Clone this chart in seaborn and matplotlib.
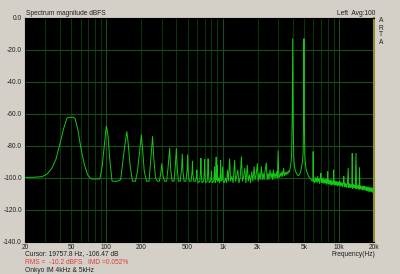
import matplotlib
matplotlib.use("Agg")
import matplotlib.pyplot as plt
import seaborn as sns
import pandas as pd

# ---------------- data ----------------
freq_low = [20, 24, 28, 31, 34, 37, 40, 43, 46, 48, 52, 54, 57, 61, 65, 69, 74, 80, 88, 92, 96, 100,
            103, 107, 112, 125, 133, 139, 144, 150, 154, 160, 168, 178, 185, 193, 200, 205, 212, 222,
            233, 240, 250, 256, 265, 275, 286, 294, 300, 306, 316, 330, 340, 350, 358, 368, 382, 392,
            400, 408, 417, 432, 445, 450, 456, 466, 483, 495, 500, 506, 516, 535, 546, 550, 555, 566,
            585, 596, 600, 605, 614, 636, 646, 650, 655, 664, 686, 696, 700, 705, 714, 736, 746, 750,
            755, 765, 786, 797, 800, 804, 814, 836, 846, 850, 855, 864, 873, 880, 886, 896, 900, 906,
            920, 940, 955, 961, 968, 985, 1000, 1012]
level_low = [-99.6, -99.5, -99.2, -97.5, -94, -88, -78.5, -69, -62.5, -62, -62, -63, -70, -83, -92, -98,
             -100.6, -100.6, -100.5, -93, -80, -67.5, -72, -88, -102, -102, -101, -89, -80, -71, -78, -92,
             -102, -102, -96, -84, -73, -82, -96, -102, -102, -90, -74, -88, -100, -102, -102, -97, -91,
             -98, -102, -102, -93, -81.5, -95, -102, -102, -92, -81.5, -95, -102, -102, -93, -85, -96,
             -102, -102, -95, -85.5, -97, -102, -102, -96, -89.5, -98, -102, -102, -99, -95, -100, -103,
             -102, -95, -87.7, -97, -103, -102, -96, -88.3, -97, -103, -102, -95, -88, -97, -103, -102,
             -99, -96, -100, -103, -102, -98, -93, -99, -103, -96, -87, -101, -98, -92, -102, -100, -103,
             -96, -89, -102, -101, -93, -102]

freq_mid = [1030, 1055, 1080, 1100, 1120, 1149, 1170, 1200, 1230, 1268, 1290, 1320, 1350, 1380, 1415,
            1450, 1480, 1515, 1550, 1585, 1628, 1660, 1700, 1740, 1780, 1820, 1864, 1900, 1940, 1986,
            2020, 2060, 2100, 2152, 2190, 2230, 2270, 2320, 2370, 2410, 2460, 2500, 2550, 2600, 2650,
            2690, 2727, 2770, 2820, 2870, 2920, 2960, 3000, 3040, 3080, 3130, 3180, 3230, 3280, 3340,
            3400, 3460, 3520, 3580, 3640, 3700, 3760, 3820, 3870, 3920, 3960, 4000, 4040, 4080, 4130,
            4200, 4300, 4400, 4480, 4580, 4680, 4780, 4860, 4920, 4960, 5000, 5040, 5090, 5160, 5250,
            5350, 5480, 5620, 5780, 5900, 5960, 6000, 6040]
level_mid = [-103, -100, -103, -95, -102, -88, -102, -99, -103, -89, -102, -99, -95, -103, -100, -86.7,
             -102, -99, -94, -103, -92, -102, -98, -103, -96, -102, -93, -101, -98, -91, -102, -97, -101,
             -93, -101, -97, -101, -95, -90.5, -101, -97, -101, -95, -100, -97, -101, -95, -100, -97,
             -100, -96, -100, -83, -99.5, -99.5, -97, -99, -96, -99, -94, -98.5, -96.5, -98, -96, -97.5,
             -95.5, -96, -93, -90, -85, -65, -13, -65, -86, -92, -95, -97, -98, -98.5, -98, -96, -93,
             -89, -84, -65, -13, -65, -86, -92, -95.5, -97, -99, -100, -101, -102, -101, -83.5, -101.5]

freq_high = [6150, 6250, 6330, 6420, 6500, 6580, 6660, 6740, 6830, 6910, 7000, 7080, 7160, 7240, 7330,
             7420, 7510, 7600, 7690, 7780, 7870, 7950, 8000, 8060, 8160, 8260, 8360, 8460, 8560, 8660,
             8760, 8860, 8950, 9000, 9060, 9170, 9280, 9390, 9500, 9620, 9740, 9860, 9980, 10100, 10230,
             10360, 10490, 10620, 10750, 10880, 11000, 11120, 11260, 11400, 11540, 11680, 11820, 12000,
             12120, 12280, 12440, 12600, 12760, 12900, 13000, 13100, 13280, 13460, 13640, 13820, 14000,
             14150, 14330, 14520, 14710, 14860, 15000, 15150, 15350, 15550, 15750, 15950, 16150, 16350,
             16550, 16760, 16970, 17180, 17400, 17620, 17840, 18060, 18290, 18520, 18750, 18980, 19220,
             19460, 19700, 19850, 20000]
level_high = [-103, -99.5, -102.5, -100, -103, -99, -102, -100.5, -103.5, -100, -97, -103, -100.5, -103,
              -100, -103.5, -101, -103, -100.5, -104, -101, -103, -96, -103.5, -101, -104, -101.5, -104,
              -101, -104.5, -102, -104, -101.5, -95, -104, -102, -104.5, -102, -104.5, -102, -105, -102.5,
              -104.5, -102, -105, -102.5, -105, -103, -105.5, -103, -99, -105.5, -103, -105.5, -103.5,
              -106, -103.5, -94, -106, -103.5, -106, -104, -106, -104, -84.6, -106.5, -104, -106, -104.5,
              -106.5, -84.6, -106.5, -104.5, -106.5, -104.5, -107, -93.5, -107, -105, -107, -105, -107.5,
              -105, -107.5, -105, -107.5, -105.5, -108, -105.5, -108, -105.5, -108.5, -106, -108.5, -106,
              -108.5, -106, -109, -106.5, -108.5, -107]

y_ticks = [0, -20, -40, -60, -80, -100, -120, -140]
x_ticks = [20, 50, 100, 200, 500, 1000, 2000, 5000, 10000, 20000]
x_tick_labels = ["20", "50", "100", "200", "500", "1k", "2k", "5k", "10k", "20k"]

df = pd.DataFrame({"freq": freq_low + freq_mid + freq_high,
                   "level": level_low + level_mid + level_high})

# ---------------- figure ----------------
W, H = 400, 274
FONT = ["Liberation Sans", "DejaVu Sans"]
plt.rcParams["font.family"] = FONT
BG = "#D4D0C8"
FS = 4.8
fig = plt.figure(figsize=(W / 100, H / 100), dpi=100, facecolor=BG)
ax = fig.add_axes([25 / W, 1 - 242 / H, 349 / W, 224 / H])
ax.set_facecolor("black")
ax.set_xscale("log")
ax.set_xlim(20, 20000)
ax.set_ylim(-140, 0)

# grid
grid_minor = "#0a360a"
grid_major = "#15501a"
for dec in [10, 100, 1000, 10000]:
    for m in range(1, 10):
        f = dec * m
        if 20 <= f <= 20000:
            c = grid_major if m == 1 else grid_minor
            ax.axvline(f, color=c, lw=0.8, zorder=0)
for v in y_ticks:
    ax.axhline(v, color=grid_major, lw=0.8, zorder=0)

sns.lineplot(data=df, x="freq", y="level", ax=ax, sort=False, estimator=None,
             color="#14C814", lw=0.7, zorder=3)

ax.set_xticks(x_ticks)
ax.set_xticklabels(x_tick_labels)
ax.minorticks_off()
ax.set_yticks(y_ticks)
ax.set_yticklabels([f"{v:.1f}" for v in y_ticks])
ax.tick_params(axis="x", length=0, labelsize=FS, colors="#202020", pad=1.2)
ax.tick_params(axis="y", length=0, labelsize=FS, colors="#202020", pad=2.2)
ax.set_xlabel("")
ax.set_ylabel("")
for s in ["top", "left", "bottom"]:
    ax.spines[s].set_color("black")
    ax.spines[s].set_linewidth(0.8)
ax.spines["right"].set_color("#8f8f2a")
ax.spines["right"].set_linewidth(1.5)

def ftext(x, y, s, color="#202020", **kw):
    fig.text(x / W, 1 - y / H, s, fontsize=FS, color=color, va="center", **kw)

ftext(26, 13.5, "Spectrum magnitude dBFS", ha="left")
ftext(375, 13.5, "Left  Avg:100", ha="right")
for i, ch in enumerate("ARTA"):
    ftext(381, 21 + 7 * i, ch, ha="center")
ftext(375, 254.5, "Frequency(Hz)", ha="right")
ftext(25, 254, "Cursor: 19757.8 Hz, -106.47 dB", ha="left")
ftext(25, 262.3, "RMS =  -10.2 dBFS   IMD =0.052%", color="#E03C3C", ha="left")
ftext(25, 270.5, "Onkyo IM 4kHz & 5kHz", ha="left")

fig.savefig("out.png", dpi=100, facecolor=BG)
